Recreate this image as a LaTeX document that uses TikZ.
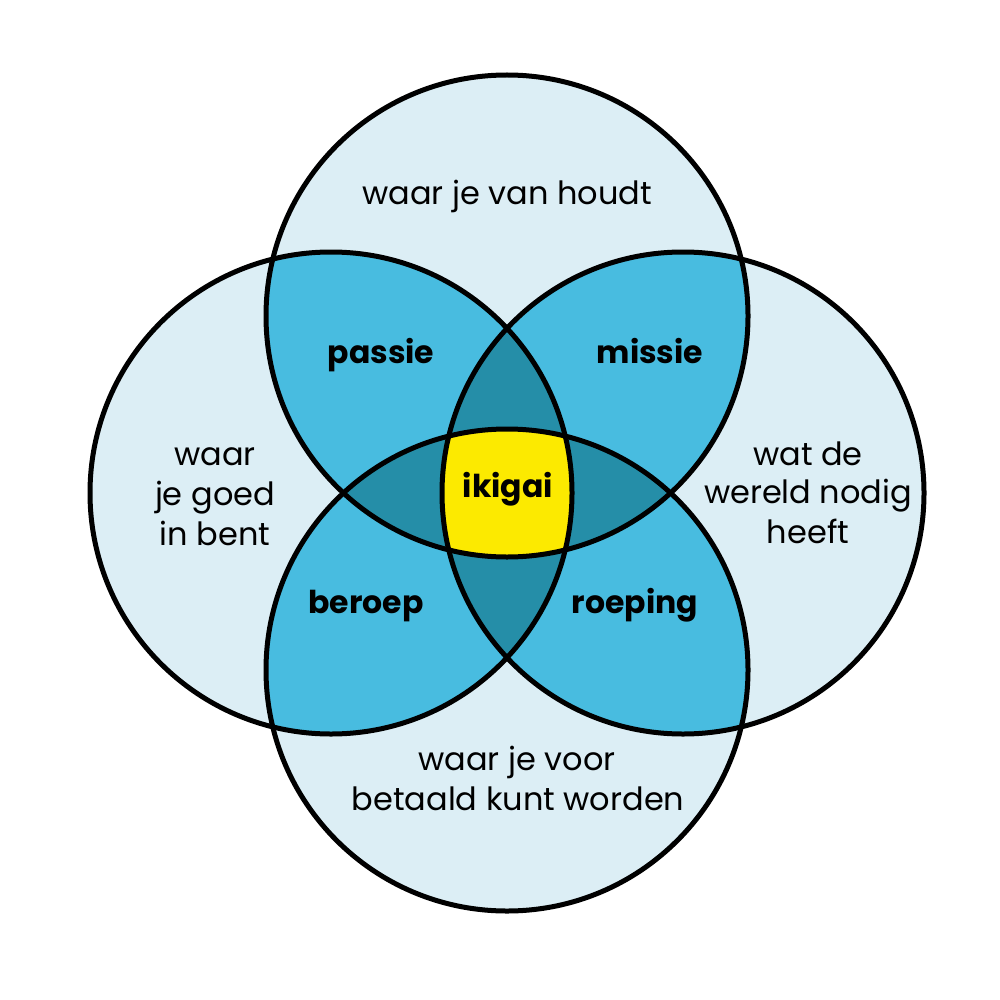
\documentclass[tikz,border=0pt]{standalone}
\usepackage{fontspec}
\setmainfont{Poppins}
\definecolor{lightc}{RGB}{220,238,245}
\definecolor{midc}{RGB}{72,188,224}
\definecolor{darkc}{RGB}{37,142,168}
\definecolor{yelc}{RGB}{252,234,0}
\begin{document}
\begin{tikzpicture}[x=1pt,y=-1pt,
  reg/.style={font=\fontsize{32}{38}\selectfont, anchor=base, text=black, inner sep=0pt},
  lab/.style={font=\fontsize{31.5}{38}\selectfont\bfseries, anchor=base, text=black, inner sep=0pt},
  ring/.style={draw=black, line width=5pt}]
\useasboundingbox (0,0) rectangle (1000,1000);
\def\R{241}
\coordinate (cT) at (507,316);
\coordinate (cL) at (331,493);
\coordinate (cR) at (683,493);
\coordinate (cB) at (507,670);
% single circles
\foreach \c in {cT,cL,cR,cB} \fill[lightc] (\c) circle (\R);
% pairs
\foreach \a/\b in {cT/cL,cT/cR,cB/cL,cB/cR,cT/cB,cL/cR}{
  \begin{scope}\clip (\a) circle (\R); \fill[midc] (\b) circle (\R);\end{scope}}
% triples
\foreach \a/\b/\c in {cT/cL/cR,cB/cL/cR,cL/cT/cB,cR/cT/cB}{
  \begin{scope}\clip (\a) circle (\R); \clip (\b) circle (\R); \fill[darkc] (\c) circle (\R);\end{scope}}
% all four
\begin{scope}\clip (cT) circle (\R); \clip (cL) circle (\R); \clip (cR) circle (\R); \fill[yelc] (cB) circle (\R);\end{scope}
% outlines
\foreach \c in {cT,cL,cR,cB} \draw[ring] (\c) circle (\R);
% texts
\node[reg] (top) at (507,205) {waar je van houdt};
\node[reg] (left1) at (215,465) {waar};
\node[reg] (left2) at (215,505) {je goed};
\node[reg] (left3) at (215,545) {in bent};
\node[reg] (right1) at (808,465) {wat de};
\node[reg] (right2) at (808,503) {wereld nodig};
\node[reg] (right3) at (808,543) {heeft};
\node[reg] (bot1) at (517,770) {waar je voor};
\node[reg] (bot2) at (518,810) {betaald kunt worden};
\node[lab] (passie) at (381,363) {passie};
\node[lab] (missie) at (650,363) {missie};
\node[lab] (beroep) at (366,613) {beroep};
\node[lab] (roeping) at (635,613) {roeping};
\node[lab] (ikigai) at (508,497) {ikigai};
\end{tikzpicture}
\end{document}
